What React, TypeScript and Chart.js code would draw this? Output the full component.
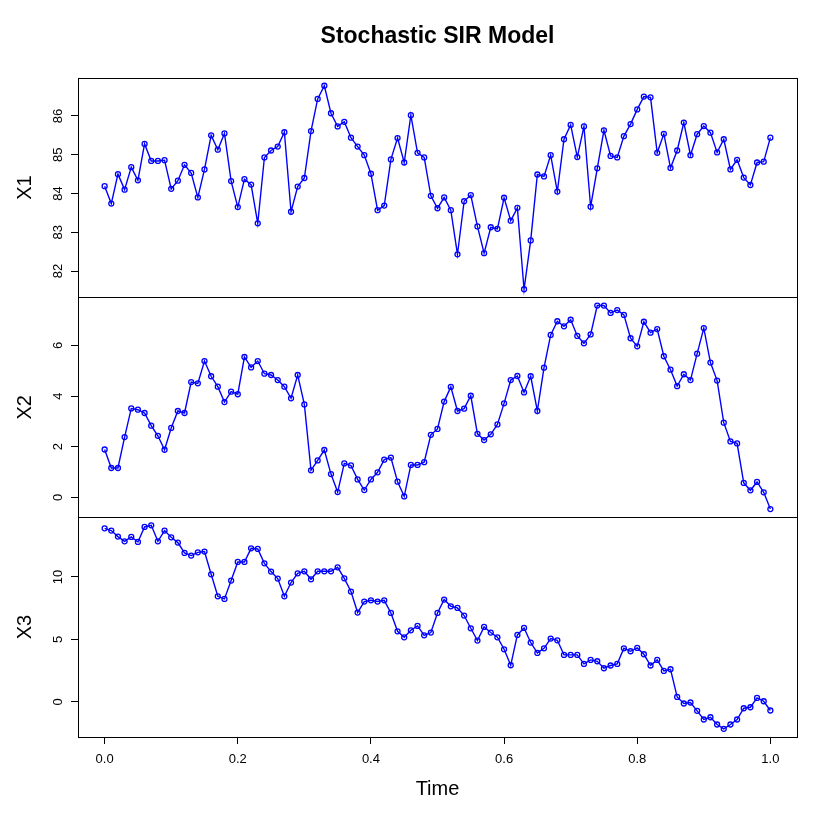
import React, { useEffect, useRef } from "react";
import { Chart, registerables } from "chart.js";

Chart.register(...registerables);

const TITLE = "Stochastic SIR Model";
const X_TITLE = "Time";
const SERIES_NAMES = ["X1", "X2", "X3"];
const T_START = 0;
const T_STEP = 0.01;

const X1 = [
  84.19, 83.74, 84.5, 84.1, 84.68, 84.34, 85.28, 84.84, 84.84, 84.86,
  84.12, 84.33, 84.74, 84.53, 83.9, 84.62, 85.5, 85.13, 85.55, 84.32,
  83.65, 84.37, 84.23, 83.23, 84.93, 85.11, 85.21, 85.58, 83.53, 84.18,
  84.4, 85.61, 86.44, 86.78, 86.07, 85.73, 85.85, 85.44, 85.21, 84.99,
  84.51, 83.57, 83.69, 84.88, 85.43, 84.8, 86.02, 85.05, 84.93, 83.94,
  83.62, 83.9, 83.57, 82.43, 83.8, 83.96, 83.15, 82.46, 83.13, 83.09,
  83.89, 83.3, 83.63, 81.53, 82.79, 84.49, 84.44, 84.99, 84.05, 85.4,
  85.77, 84.94, 85.73, 83.66, 84.65, 85.63, 84.97, 84.93, 85.48, 85.79,
  86.17, 86.5, 86.48, 85.05, 85.54, 84.66, 85.11, 85.83, 84.99, 85.53,
  85.74, 85.57, 85.06, 85.4, 84.62, 84.87, 84.41, 84.22, 84.8, 84.82,
  85.44,
];

const X2 = [
  1.89, 1.16, 1.16, 2.38, 3.51, 3.46, 3.33, 2.83, 2.43, 1.88,
  2.74, 3.41, 3.33, 4.55, 4.5, 5.38, 4.78, 4.37, 3.76, 4.17,
  4.07, 5.54, 5.13, 5.38, 4.88, 4.83, 4.63, 4.37, 3.91, 4.83,
  3.67, 1.07, 1.46, 1.87, 0.92, 0.21, 1.34, 1.26, 0.71, 0.29,
  0.71, 0.99, 1.49, 1.57, 0.62, 0.04, 1.28, 1.28, 1.39, 2.47,
  2.7, 3.78, 4.36, 3.41, 3.5, 4.01, 2.51, 2.26, 2.49, 2.88,
  3.71, 4.63, 4.79, 4.14, 4.78, 3.41, 5.12, 6.41, 6.95, 6.75,
  7.01, 6.37, 6.08, 6.43, 7.57, 7.57, 7.28, 7.39, 7.2, 6.28,
  5.96, 6.93, 6.5, 6.64, 5.57, 5.04, 4.39, 4.86, 4.63, 5.67,
  6.68, 5.32, 4.61, 2.95, 2.21, 2.13, 0.57, 0.28, 0.61, 0.2,
  -0.46,
];

const X3 = [
  13.89, 13.71, 13.23, 12.85, 13.2, 12.8, 14.0, 14.13, 12.85, 13.71,
  13.17, 12.75, 11.92, 11.71, 11.97, 12.03, 10.21, 8.45, 8.24, 9.71,
  11.2, 11.2, 12.29, 12.24, 11.09, 10.43, 9.87, 8.45, 9.55, 10.29,
  10.45, 9.81, 10.45, 10.45, 10.45, 10.77, 9.89, 8.83, 7.15, 8.03,
  8.13, 8.03, 8.13, 7.12, 5.65, 5.17, 5.73, 6.08, 5.33, 5.55,
  7.12, 8.19, 7.65, 7.52, 6.91, 5.89, 4.91, 6.0, 5.55, 5.17,
  4.21, 2.93, 5.36, 5.92, 4.75, 3.92, 4.29, 5.07, 4.93, 3.76,
  3.76, 3.76, 3.04, 3.36, 3.25, 2.69, 2.91, 3.04, 4.29, 4.05,
  4.32, 3.81, 2.91, 3.36, 2.48, 2.61, 0.4, -0.13, -0.05, -0.72,
  -1.41, -1.23, -1.81, -2.16, -1.81, -1.41, -0.51, -0.43, 0.32, 0.05,
  -0.69,
];

const X1_TICKS = [82, 83, 84, 85, 86];
const X2_TICKS = [0, 2, 4, 6];
const X3_TICKS = [0, 5, 10];
const TIME_TICKS = [0, 0.2, 0.4, 0.6, 0.8, 1.0];

const FONT = "'Liberation Sans', Arial, Helvetica, sans-serif";
const AXIS_IDS = ["y1", "y2", "y3"];

function rRange(arr: number[]): [number, number] {
  const mn = Math.min(...arr);
  const mx = Math.max(...arr);
  const d = (mx - mn) * 0.04;
  return [mn - d, mx + d];
}

function yScale(name: string, data: number[], ticks: number[], weight: number, pad: number) {
  const [min, max] = rRange(data);
  return {
    type: "linear",
    position: "left",
    stack: "panels",
    stackWeight: 1,
    weight,
    min,
    max,
    afterBuildTicks: (s: any) => {
      s.ticks = ticks.map((v) => ({ value: v }));
    },
    afterFit: (s: any) => {
      s.width = 78;
    },
    grid: { drawOnChartArea: false, drawTicks: true, tickLength: 7, color: "#000", lineWidth: 1 },
    border: { display: false },
    ticks: {
      minRotation: 90,
      maxRotation: 90,
      crossAlign: "center",
      padding: pad,
      color: "#000",
      font: { family: FONT, size: 13 },
      callback: (v: any) => String(v),
    },
    title: {
      display: true,
      text: name,
      color: "#000",
      font: { family: FONT, size: 20 },
      padding: { top: 13, bottom: 0 },
    },
  };
}

const boxPlugin = {
  id: "panelBoxes",
  afterDatasetsDraw(chart: any) {
    const { ctx, chartArea } = chart;
    ctx.save();
    ctx.strokeStyle = "#000";
    ctx.lineWidth = 1;
    AXIS_IDS.forEach((id) => {
      const s = chart.scales[id];
      const x0 = Math.round(chartArea.left) + 0.5;
      const x1 = Math.round(chartArea.right) + 0.5;
      const y0 = Math.round(s.top) + 0.5;
      const y1 = Math.round(s.bottom) + 0.5;
      ctx.strokeRect(x0, y0, x1 - x0, y1 - y0);
    });
    ctx.restore();
  },
};

export default function App() {
  const ref = useRef<HTMLCanvasElement | null>(null);

  useEffect(() => {
    if (!ref.current) return;
    const series = [X1, X2, X3];
    const chart = new Chart(ref.current, {
      type: "line",
      data: {
        datasets: series.map((arr, k) => ({
          label: SERIES_NAMES[k],
          data: arr.map((v, i) => ({ x: T_START + i * T_STEP, y: v })),
          yAxisID: AXIS_IDS[k],
          borderColor: "#0000FF",
          borderWidth: 1.4,
          pointRadius: 2.5,
          pointBorderWidth: 1.3,
          pointBorderColor: "#0000FF",
          pointBackgroundColor: "rgba(255,255,255,0)",
          tension: 0,
          fill: false,
        })),
      },
      options: {
        responsive: false,
        animation: false,
        devicePixelRatio: 1,
        layout: { padding: { top: 0, left: 0, right: 33, bottom: 0 } },
        plugins: {
          legend: { display: false },
          tooltip: { enabled: false },
          title: {
            display: true,
            text: TITLE,
            fullSize: false,
            color: "#000",
            font: { family: FONT, size: 23, weight: "bold" },
            padding: { top: 23, bottom: 27 },
          },
        },
        scales: {
          x: {
            type: "linear",
            position: "bottom",
            min: -0.04,
            max: 1.04,
            afterBuildTicks: (s: any) => {
              s.ticks = TIME_TICKS.map((v) => ({ value: v }));
            },
            afterFit: (s: any) => {
              s.height = 93;
            },
            grid: { drawOnChartArea: false, drawTicks: true, tickLength: 7, color: "#000", lineWidth: 1 },
            border: { display: false },
            ticks: {
              minRotation: 0,
              maxRotation: 0,
              autoSkip: false,
              padding: 8,
              color: "#000",
              font: { family: FONT, size: 13 },
              callback: (v: any) => Number(v).toFixed(1),
            },
            title: {
              display: true,
              text: X_TITLE,
              color: "#000",
              font: { family: FONT, size: 20 },
              padding: { top: 0, bottom: 29 },
            },
          },
          y1: yScale(SERIES_NAMES[0], X1, X1_TICKS, 3, 5),
          y2: yScale(SERIES_NAMES[1], X2, X2_TICKS, 2, 8.5),
          y3: yScale(SERIES_NAMES[2], X3, X3_TICKS, 1, 5),
        } as any,
      },
      plugins: [boxPlugin],
    } as any);
    return () => chart.destroy();
  }, []);

  return (
    <div style={{ position: "absolute", left: 0, top: 0, width: 830, height: 830, background: "#fff" }}>
      <canvas ref={ref} width={830} height={830} style={{ display: "block" }} />
    </div>
  );
}
